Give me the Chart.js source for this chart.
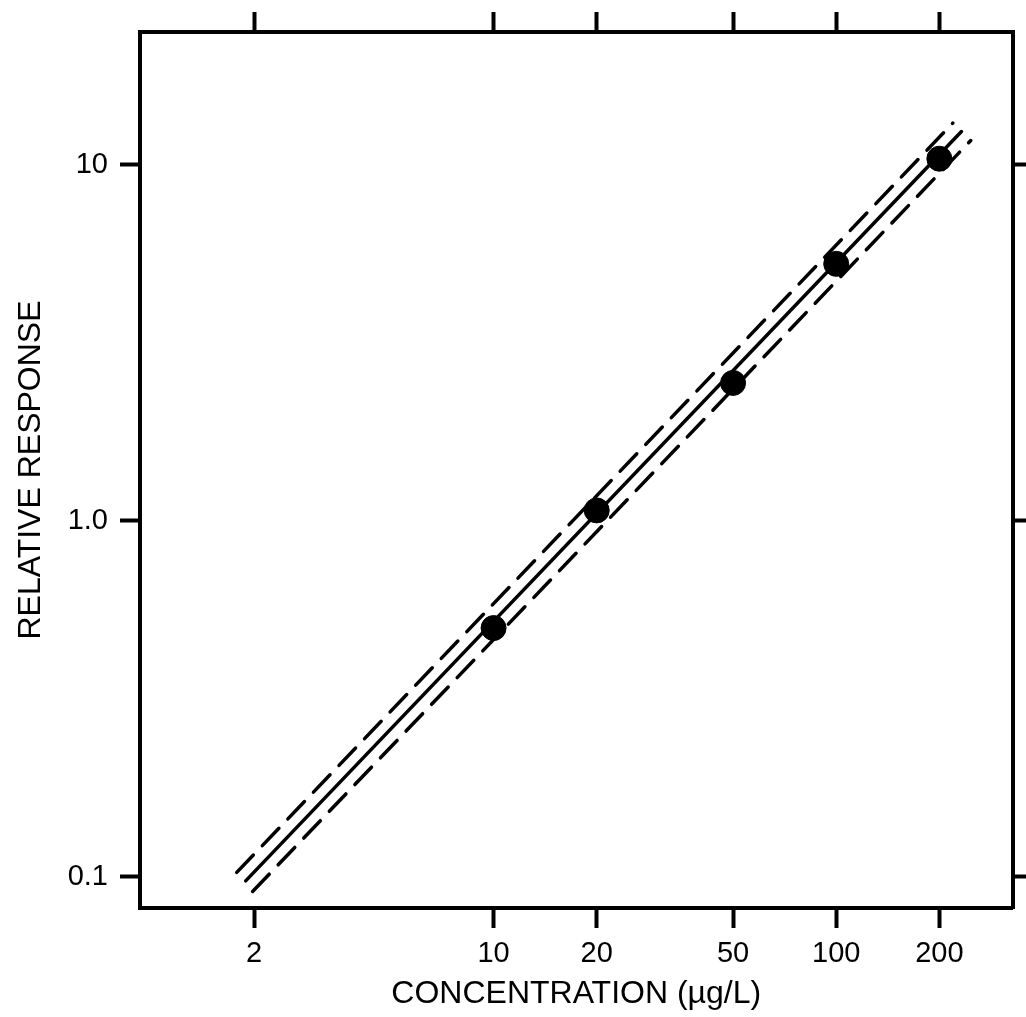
<!DOCTYPE html>
<html>
<head>
<meta charset="utf-8">
<script src="https://cdn.jsdelivr.net/npm/chart.js@4/dist/chart.umd.min.js"></script>
<style>
    body { margin: 0; background: #fff; }
</style>
</head>
<body>
<canvas id="calibChart" width="1026" height="1017"></canvas>
<script>
// measured points (concentration vs relative response)
const concentrations = [10, 20, 50, 100, 200];
const responses = [0.50, 1.07, 2.44, 5.27, 10.4];

// regression line and confidence band end points
const fitX = [1.89, 232];
const fitY = [0.0975, 12.4];
const upperX = [1.78, 219];
const upperY = [0.103, 13.1];
const lowerX = [1.98, 247];
const lowerY = [0.091, 11.7];

// axis ticks
const xTicks = [2, 10, 20, 50, 100, 200];
const yTicks = [0.1, 1, 10];
const yTickLabels = ["0.1", "1.0", "10"];

const xRange = [0.929, 327];
const yRange = [0.0818, 23.6];

const FONT = "'Liberation Sans', Arial, Helvetica, sans-serif";

function toPoints(xs, ys) {
    return xs.map((x, i) => ({ x: x, y: ys[i] }));
}

function lineDataset(xs, ys, dashed) {
    return {
        type: "line",
        data: toPoints(xs, ys),
        borderColor: "#000",
        borderWidth: 3.5,
        borderDash: dashed ? [24, 13] : [],
        borderCapStyle: "round",
        pointRadius: 0,
        fill: false
    };
}

function axisLook(extra) {
    return Object.assign({
        border: { display: true, color: "#000", width: 4 },
        grid: {
            drawOnChartArea: false,
            drawTicks: true,
            tickLength: 20,
            tickWidth: 4,
            tickColor: "#000"
        }
    }, extra);
}

const ctx = document.getElementById("calibChart").getContext("2d");

new Chart(ctx, {
    type: "scatter",
    data: {
        datasets: [
            lineDataset(upperX, upperY, true),
            lineDataset(lowerX, lowerY, true),
            lineDataset(fitX, fitY, false),
            {
                type: "scatter",
                data: toPoints(concentrations, responses),
                backgroundColor: "#000",
                borderColor: "#000",
                pointRadius: 12.5,
                pointHoverRadius: 12.5
            }
        ]
    },
    options: {
        responsive: false,
        animation: false,
        layout: { padding: 0 },
        plugins: {
            legend: { display: false },
            tooltip: { enabled: false }
        },
        scales: {
            x: axisLook({
                type: "logarithmic",
                position: "bottom",
                min: xRange[0],
                max: xRange[1],
                afterBuildTicks: axis => { axis.ticks = xTicks.map(v => ({ value: v })); },
                afterFit: axis => { axis.height = 109; },
                ticks: {
                    color: "#000",
                    font: { family: FONT, size: 29 },
                    padding: 9,
                    maxRotation: 0,
                    autoSkip: false,
                    callback: value => String(value)
                },
                title: {
                    display: true,
                    text: "CONCENTRATION (µg/L)",
                    color: "#000",
                    font: { family: FONT, size: 32 },
                    padding: { top: 0, bottom: 4 }
                }
            }),
            x2: axisLook({
                type: "logarithmic",
                position: "top",
                min: xRange[0],
                max: xRange[1],
                afterBuildTicks: axis => { axis.ticks = xTicks.map(v => ({ value: v })); },
                afterFit: axis => { axis.height = 32; },
                ticks: { display: false }
            }),
            y: axisLook({
                type: "logarithmic",
                position: "left",
                min: yRange[0],
                max: yRange[1],
                afterBuildTicks: axis => { axis.ticks = yTicks.map(v => ({ value: v })); },
                afterFit: axis => { axis.width = 140; },
                ticks: {
                    color: "#000",
                    font: { family: FONT, size: 29 },
                    padding: 12,
                    autoSkip: false,
                    callback: value => yTickLabels[yTicks.indexOf(value)] || ""
                },
                title: {
                    display: true,
                    text: "RELATIVE RESPONSE",
                    color: "#000",
                    font: { family: FONT, size: 32 },
                    padding: { top: 12, bottom: 0 }
                }
            }),
            y2: axisLook({
                type: "logarithmic",
                position: "right",
                min: yRange[0],
                max: yRange[1],
                afterBuildTicks: axis => { axis.ticks = yTicks.map(v => ({ value: v })); },
                afterFit: axis => { axis.width = 12; },
                ticks: { display: false }
            })
        }
    }
});
</script>
</body>
</html>
